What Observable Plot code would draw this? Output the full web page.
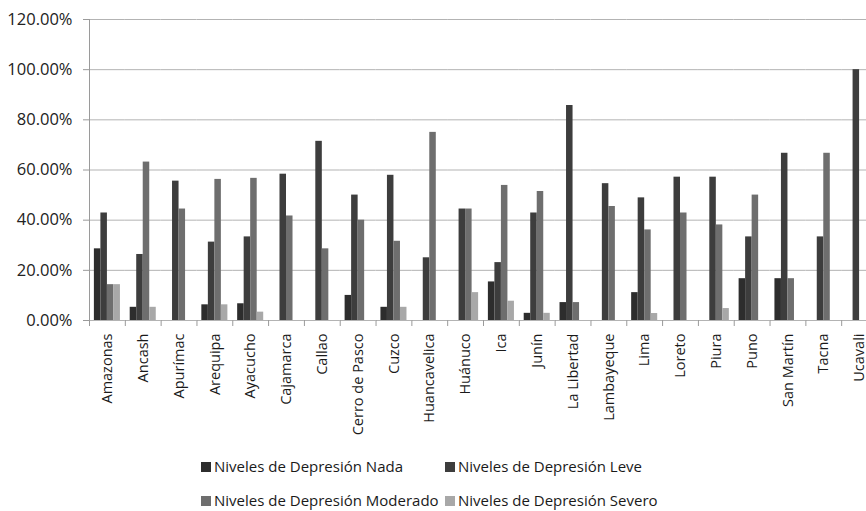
<!DOCTYPE html>
<html>
<head>
<meta charset="utf-8">
<script src="https://cdn.jsdelivr.net/npm/d3@7"></script>
<script src="https://cdn.jsdelivr.net/npm/@observablehq/plot@0.6"></script>
<style>
html,body{margin:0;padding:0;background:#fff;overflow:hidden;}
#wrap{position:relative;width:866px;height:511px;overflow:hidden;font-family:"Open Sans",sans-serif;}
#chart{position:absolute;left:0;top:0;width:877px;}
#chart svg{max-width:none !important;}
.leg{position:absolute;font-size:15px;color:#1a1a1a;white-space:nowrap;line-height:18px;height:18px;}
.sw{display:inline-block;width:10px;height:10px;margin-right:3px;vertical-align:0px;}
</style>
</head>
<body>
<div id="wrap"><div id="chart"></div><div id="legend"></div></div>
<script>
const regions = ["Amazonas","Ancash","Apurímac","Arequipa","Ayacucho","Cajamarca","Callao","Cerro de Pasco","Cuzco","Huancavelica","Huánuco","Ica","Junín","La Libertad","Lambayeque","Lima","Loreto","Piura","Puno","San Martín","Tacna","Ucavali"];
const series = ["Niveles de Depresión Nada","Niveles de Depresión Leve","Niveles de Depresión Moderado","Niveles de Depresión Severo"];
const nada     = [28.57, 5.26, 0, 6.25, 6.67, 0, 0, 10, 5.26, 0, 0, 15.38, 2.86, 7.14, 0, 11.11, 0, 0, 16.67, 16.67, 0, 0];
const leve     = [42.86, 26.32, 55.56, 31.25, 33.33, 58.33, 71.43, 50, 57.89, 25, 44.44, 23.08, 42.86, 85.71, 54.55, 48.89, 57.14, 57.14, 33.33, 66.67, 33.33, 100];
const moderado = [14.29, 63.16, 44.44, 56.25, 56.67, 41.67, 28.57, 40, 31.58, 75, 44.44, 53.85, 51.43, 7.14, 45.45, 36.11, 42.86, 38.10, 50, 16.67, 66.67, 0];
const severo   = [14.29, 5.26, 0, 6.25, 3.33, 0, 0, 0, 5.26, 0, 11.11, 7.69, 2.86, 0, 0, 2.78, 0, 4.76, 0, 0, 0, 0];
const yTicks = [0, 20, 40, 60, 80, 100, 120];
const colors = ["#2d2d2d", "#3d3d3d", "#6e6e6e", "#a8a8a8"];

const valueSets = [nada, leve, moderado, severo];
const rows = regions.flatMap((r, i) => series.map((s, j) => ({region: r, series: s, value: valueSets[j][i]})));

const W = 877;
const marginLeft = 89;
const step = (W - marginLeft) / regions.length;
const xPadOuter = 0.75;
const sub = step / (series.length + 2 * xPadOuter);

const chart = Plot.plot({
  width: W,
  height: 440,
  marginLeft: marginLeft,
  marginRight: 0,
  marginTop: 19,
  marginBottom: 120,
  style: {fontFamily: "Open Sans, sans-serif", fontSize: "15px", color: "#333", background: "#fff", overflow: "visible", maxWidth: "none"},
  fx: {domain: regions, padding: 0, round: false, label: null},
  x: {domain: series, paddingInner: 0, paddingOuter: xPadOuter, round: false, axis: null},
  y: {domain: [0, 120], label: null},
  color: {domain: series, range: colors},
  marks: [
    Plot.gridY(yTicks, {stroke: "#b3b3b3", strokeOpacity: 1, strokeWidth: 1}),
    Plot.barY(rows, {fx: "region", x: "series", y: "value", fill: "series"}),
    Plot.ruleX([regions[0]], {fx: d => d, x: () => series[0], y1: 0, y2: 120, dx: -(xPadOuter * sub + sub / 2), stroke: "#9a9a9a"}),
    Plot.axisY(yTicks, {tickSize: 6, tickPadding: 11, stroke: "#9a9a9a", fill: "#222", fontSize: 16.5, tickFormat: d => d.toFixed(2) + "%"}),
    Plot.axisFx({anchor: "bottom", tickSize: 6, dx: -step / 2, tickFormat: () => "", stroke: "#9a9a9a"}),
    Plot.axisFx({anchor: "bottom", tickSize: 0, tickPadding: 13, tickRotate: -90, fontSize: 14.5, fill: "#1a1a1a"})
  ]
});
chart.style.maxWidth = "none";
document.getElementById("chart").appendChild(chart);

const legendPos = [
  {left: 201, top: 457},
  {left: 445, top: 457},
  {left: 201, top: 491},
  {left: 445, top: 491}
];
const legend = document.getElementById("legend");
series.forEach((s, j) => {
  const d = document.createElement("div");
  d.className = "leg";
  d.style.left = legendPos[j].left + "px";
  d.style.top = legendPos[j].top + "px";
  d.innerHTML = `<span class="sw" style="background:${colors[j]}"></span>${s}`;
  legend.appendChild(d);
});
</script>
</body>
</html>
